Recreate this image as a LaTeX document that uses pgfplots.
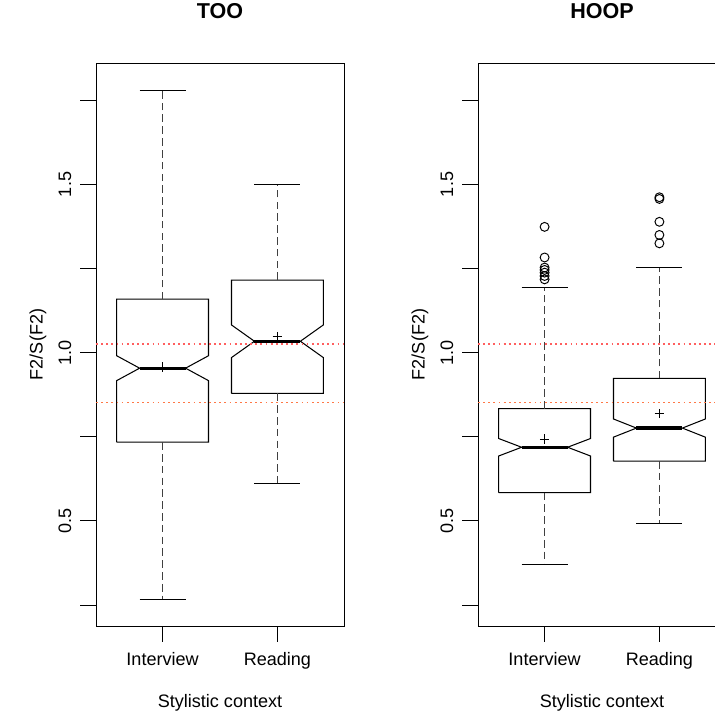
\documentclass[border=0pt]{standalone}
\usepackage{pgfplots}
\pgfplotsset{compat=1.18}
\usepackage{fontspec}
\setmainfont{Liberation Sans}
\definecolor{refA}{RGB}{255,95,95}
\definecolor{refB}{RGB}{255,120,70}
\pgfplotsset{
  rpanel/.style={
    scale only axis, width=178.56pt, height=405.36pt, anchor=south west,
    xmin=0.42, xmax=2.58, ymin=0.1878, ymax=1.861,
    xtick={1,2}, xticklabels={Interview,Reading},
    ytick={0.25,0.5,0.75,1,1.25,1.5,1.75},
    yticklabels={{},0.5,{},1.0,{},1.5,{}},
    xtick pos=bottom, ytick pos=left,
    tick align=outside, major tick length=11.5pt,
    tick style={black, line width=0.7pt},
    axis line style={black, line width=0.7pt},
    ticklabel style={font=\fontsize{13}{15}\selectfont},
    xticklabel style={anchor=base, yshift=-17.3pt},
    yticklabel style={xshift=-6.5pt, rotate=90, anchor=base},
    title style={font=\bfseries\fontsize{15.5}{18}\selectfont, at={(rel axis cs:0.5,1.0639)}, anchor=base},
    xlabel={Stylistic context},
    ylabel={F2/S(F2)},
    every axis x label/.style={at={(rel axis cs:0.5,-0.1456)}, anchor=base, font=\fontsize{13}{15}\selectfont},
    every axis y label/.style={at={(rel axis cs:-0.2157,0.5)}, rotate=90, anchor=base, font=\fontsize{13}{15}\selectfont},
  },
  bx/.style={black, line width=0.75pt, no marks, sharp plot},
  md/.style={black, line width=2.3pt, no marks, line cap=butt},
  wh/.style={black!75, line width=0.8pt, no marks, dash pattern=on 5.5pt off 3pt},
  cp/.style={black, line width=0.75pt, no marks},
  mn/.style={black, only marks, mark=+, mark size=3.4pt, mark options={line width=0.9pt}},
  ol/.style={black, only marks, mark=o, mark size=3.2pt, mark options={line width=0.7pt}},
  refa/.style={refA, line width=0.9pt, no marks, dash pattern=on 1.3pt off 2.4pt},
  refb/.style={refB, line width=0.9pt, no marks, dash pattern=on 1.3pt off 2.4pt},
}
\begin{document}
\begin{tikzpicture}
\useasboundingbox (0,0) rectangle (514.8pt,513.36pt);
\clip (0,0) rectangle (514.8pt,513.36pt);
% ---------------- TOO ----------------
\begin{axis}[rpanel, at={(69.12pt,62.64pt)}, title={TOO}]
% Interview
\addplot[bx] coordinates {(0.6,0.734) (0.6,0.917) (0.8,0.954) (0.6,0.991) (0.6,1.159) (1.4,1.159) (1.4,0.991) (1.2,0.954) (1.4,0.917) (1.4,0.734) (0.6,0.734)};
\addplot[md] coordinates {(0.8,0.954) (1.2,0.954)};
\addplot[wh] coordinates {(1,1.159) (1,1.779)};
\addplot[wh] coordinates {(1,0.734) (1,0.267)};
\addplot[cp] coordinates {(0.8,1.779) (1.2,1.779)};
\addplot[cp] coordinates {(0.8,0.267) (1.2,0.267)};
\addplot[mn] coordinates {(1,0.957)};
% Reading
\addplot[bx] coordinates {(1.6,0.879) (1.6,0.9855) (1.8,1.034) (1.6,1.0825) (1.6,1.216) (2.4,1.216) (2.4,1.0825) (2.2,1.034) (2.4,0.9855) (2.4,0.879) (1.6,0.879)};
\addplot[md] coordinates {(1.8,1.034) (2.2,1.034)};
\addplot[wh] coordinates {(2,1.216) (2,1.501)};
\addplot[wh] coordinates {(2,0.879) (2,0.610)};
\addplot[cp] coordinates {(1.8,1.501) (2.2,1.501)};
\addplot[cp] coordinates {(1.8,0.610) (2.2,0.610)};
\addplot[mn] coordinates {(2,1.048)};
% reference lines
\addplot[refa] coordinates {(0.42,1.026) (2.58,1.026)};
\addplot[refb] coordinates {(0.42,0.851) (2.58,0.851)};
\end{axis}
% ---------------- HOOP ----------------
\begin{axis}[rpanel, at={(344.16pt,62.64pt)}, title={HOOP}]
% Interview
\addplot[bx] coordinates {(0.6,0.584) (0.6,0.693) (0.8,0.719) (0.6,0.745) (0.6,0.834) (1.4,0.834) (1.4,0.745) (1.2,0.719) (1.4,0.693) (1.4,0.584) (0.6,0.584)};
\addplot[md] coordinates {(0.8,0.719) (1.2,0.719)};
\addplot[wh] coordinates {(1,0.834) (1,1.195)};
\addplot[wh] coordinates {(1,0.584) (1,0.370)};
\addplot[cp] coordinates {(0.8,1.195) (1.2,1.195)};
\addplot[cp] coordinates {(0.8,0.370) (1.2,0.370)};
\addplot[mn] coordinates {(1,0.743)};
\addplot[ol] coordinates {(1,1.374) (1,1.283) (1,1.253) (1,1.246) (1,1.238) (1,1.228) (1,1.218)};
% Reading
\addplot[bx] coordinates {(1.6,0.678) (1.6,0.749) (1.8,0.776) (1.6,0.803) (1.6,0.924) (2.4,0.924) (2.4,0.803) (2.2,0.776) (2.4,0.749) (2.4,0.678) (1.6,0.678)};
\addplot[md] coordinates {(1.8,0.776) (2.2,0.776)};
\addplot[wh] coordinates {(2,0.924) (2,1.253)};
\addplot[wh] coordinates {(2,0.678) (2,0.491)};
\addplot[cp] coordinates {(1.8,1.253) (2.2,1.253)};
\addplot[cp] coordinates {(1.8,0.491) (2.2,0.491)};
\addplot[mn] coordinates {(2,0.819)};
\addplot[ol] coordinates {(2,1.462) (2,1.457) (2,1.389) (2,1.350) (2,1.325)};
% reference lines
\addplot[refa] coordinates {(0.42,1.026) (2.58,1.026)};
\addplot[refb] coordinates {(0.42,0.851) (2.58,0.851)};
\end{axis}
\end{tikzpicture}
\end{document}
